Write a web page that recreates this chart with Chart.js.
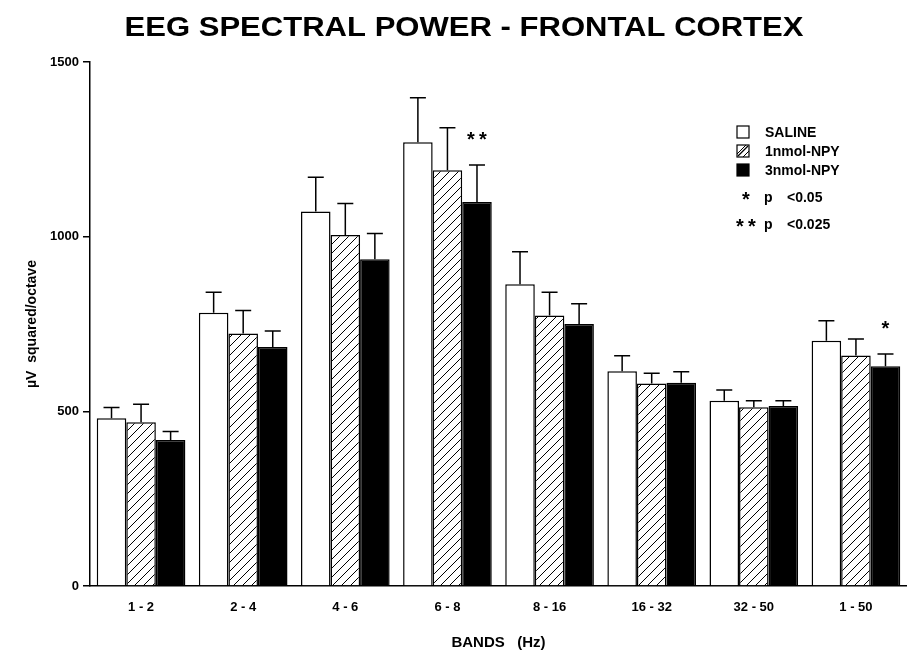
<!DOCTYPE html>
<html>
<head>
<meta charset="utf-8">
<script src="https://cdn.jsdelivr.net/npm/chart.js@4.4.1/dist/chart.umd.min.js"></script>
<style>
    body { margin: 0; background: #fff; }
    #wrap { width: 907px; height: 656px; position: relative; }
</style>
</head>
<body>
<div id="wrap"><canvas id="eegChart"></canvas></div>
<script>
const bands = ['1-2', '2-4', '4-6', '6-8', '8-16', '16-32', '32-50', '1-50'];
const salineMean = [480, 782, 1072, 1270, 864, 615, 530, 702];
const salineErr = [31, 59, 98, 128, 93, 44, 31, 57];
const npy1Mean = [469, 723, 1005, 1190, 774, 580, 512, 660];
const npy1Err = [51, 66, 90, 122, 67, 29, 18, 47];
const npy3Mean = [418, 684, 935, 1099, 750, 582, 515, 629];
const npy3Err = [24, 46, 74, 106, 58, 31, 15, 35];
const seriesNames = ['SALINE', '1nmol-NPY', '3nmol-NPY'];
const sigMarks = ['', '', '', '**', '', '', '', '*']; // drawn over 3nmol-NPY
const sigLegend = [['*', 'p', '<0.05'], ['**', 'p', '<0.025']];
const yTicks = [0, 500, 1000, 1500];

const FONT = '"Liberation Sans", Arial, Helvetica, sans-serif';

// hatch "/" pattern for 1nmol-NPY
function makeHatch() {
    const c = document.createElement('canvas');
    c.width = 9; c.height = 9;
    const g = c.getContext('2d');
    g.fillStyle = '#fff';
    g.fillRect(0, 0, 9, 9);
    g.strokeStyle = '#000';
    g.lineWidth = 1;
    g.beginPath();
    g.moveTo(-1, 10); g.lineTo(10, -1);
    g.moveTo(-1, 1); g.lineTo(1, -1);
    g.moveTo(8, 10); g.lineTo(10, 8);
    g.stroke();
    return g.createPattern(c, 'repeat');
}
const hatch = makeHatch();

const errors = [salineErr, npy1Err, npy3Err];

function star(ctx, text, x, y) {
    // "*" or "**" with a gap between the stars
    ctx.font = 'bold 20px ' + FONT;
    ctx.textAlign = 'center';
    ctx.textBaseline = 'middle';
    if (text === '**') {
        ctx.fillText('*', x - 6, y + 4);
        ctx.fillText('*', x + 6, y + 4);
    } else {
        ctx.fillText('*', x, y + 4);
    }
}

const extras = {
    id: 'extras',
    afterDatasetsDraw(chart) {
        const ctx = chart.ctx;
        const y = chart.scales.y;
        ctx.save();
        ctx.strokeStyle = '#000';
        ctx.fillStyle = '#000';
        ctx.lineWidth = 1.5;
        // error bars, upper half only
        chart.data.datasets.forEach((ds, i) => {
            const meta = chart.getDatasetMeta(i);
            meta.data.forEach((bar, j) => {
                const top = y.getPixelForValue(ds.data[j] + errors[i][j]);
                ctx.beginPath();
                ctx.moveTo(bar.x, bar.y);
                ctx.lineTo(bar.x, top);
                ctx.moveTo(bar.x - 8, top);
                ctx.lineTo(bar.x + 8, top);
                ctx.stroke();
            });
        });
        const meta3 = chart.getDatasetMeta(2);
        sigMarks.forEach((m, j) => {
            if (!m) return;
            const bar = meta3.data[j];
            const top = y.getPixelForValue(npy3Mean[j] + npy3Err[j]);
            star(ctx, m, bar.x, top - 29);
        });
        ctx.restore();
    },
    afterDraw(chart) {
        const ctx = chart.ctx;
        const area = chart.chartArea;
        ctx.save();
        ctx.fillStyle = '#000';
        // title, stretched a bit to the wider face of the original
        const title = 'EEG SPECTRAL POWER - FRONTAL CORTEX';
        ctx.font = 'bold 27px ' + FONT;
        ctx.textAlign = 'center';
        ctx.textBaseline = 'middle';
        const sx = 679 / ctx.measureText(title).width;
        ctx.save();
        ctx.translate(464, 29);
        ctx.scale(sx, 1);
        ctx.fillText(title, 0, 0);
        ctx.restore();
        // legend
        const lx = area.right - 170;
        const ly = area.top + 70;
        ctx.font = 'bold 14px ' + FONT;
        ctx.textAlign = 'left';
        chart.data.datasets.forEach((ds, i) => {
            const yy = ly + i * 19;
            ctx.fillStyle = ds.backgroundColor;
            ctx.fillRect(lx, yy - 6, 12, 12);
            ctx.strokeStyle = '#000';
            ctx.lineWidth = 1.2;
            ctx.strokeRect(lx, yy - 6, 12, 12);
            if (i === 1) {
                ctx.beginPath();
                ctx.moveTo(lx + 1, yy + 5);
                ctx.lineTo(lx + 11, yy - 5);
                ctx.stroke();
            }
            ctx.fillStyle = '#000';
            ctx.fillText(ds.label, lx + 28, yy + 1);
        });
        sigLegend.forEach((row, k) => {
            const yy = ly + 66 + k * 27;
            star(ctx, row[0], lx + 9, yy - 2);
            ctx.font = 'bold 14px ' + FONT;
            ctx.textAlign = 'left';
            ctx.textBaseline = 'middle';
            ctx.fillText(row[1], lx + 27, yy);
            ctx.fillText(row[2], lx + 50, yy);
        });
        ctx.restore();
    }
};

const ctx = document.getElementById('eegChart').getContext('2d');
const eegChart = new Chart(ctx, {
    type: 'bar',
    data: {
        labels: bands,
        datasets: [
            { label: seriesNames[0], data: salineMean, backgroundColor: '#ffffff' },
            { label: seriesNames[1], data: npy1Mean, backgroundColor: hatch },
            { label: seriesNames[2], data: npy3Mean, backgroundColor: '#000000' }
        ]
    },
    options: {
        responsive: true,
        maintainAspectRatio: false,
        animation: false,
        devicePixelRatio: 1,
        layout: { padding: { top: 62, left: 0, right: 0, bottom: 0 } },
        datasets: {
            bar: {
                borderColor: '#000',
                borderWidth: 1.5,
                categoryPercentage: 0.868,
                barPercentage: 1.0
            }
        },
        plugins: {
            legend: { display: false },
            tooltip: { enabled: false },
            title: { display: false }
        },
        scales: {
            x: {
                grid: { display: false },
                border: { display: true, color: '#000', width: 1.5 },
                ticks: {
                    color: '#000',
                    padding: 6,
                    font: { family: FONT, size: 13, weight: 'bold' },
                    callback: function (value) {
                        return this.getLabelForValue(value).replace('-', ' - ');
                    }
                },
                title: {
                    display: true,
                    text: 'BANDS   (Hz)',
                    color: '#000',
                    font: { family: FONT, size: 15, weight: 'bold' },
                    padding: { top: 0, bottom: 4 }
                },
                afterFit(scale) { scale.height = 70; }
            },
            y: {
                min: 0,
                max: 1500,
                afterBuildTicks(scale) {
                    scale.ticks = yTicks.map(v => ({ value: v }));
                },
                grid: {
                    display: true,
                    drawOnChartArea: false,
                    drawTicks: true,
                    tickLength: 7,
                    color: '#000',
                    lineWidth: 1.5
                },
                border: { display: true, color: '#000', width: 1.5 },
                ticks: {
                    color: '#000',
                    padding: 4,
                    font: { family: FONT, size: 13, weight: 'bold' },
                    callback: value => String(value)
                },
                title: {
                    display: true,
                    text: 'µV  squared/octave',
                    color: '#000',
                    font: { family: FONT, size: 14, weight: 'bold' },
                    padding: { top: 24, bottom: 0 }
                },
                afterFit(scale) { scale.width = 90; }
            }
        }
    },
    plugins: [extras]
});
</script>
</body>
</html>
